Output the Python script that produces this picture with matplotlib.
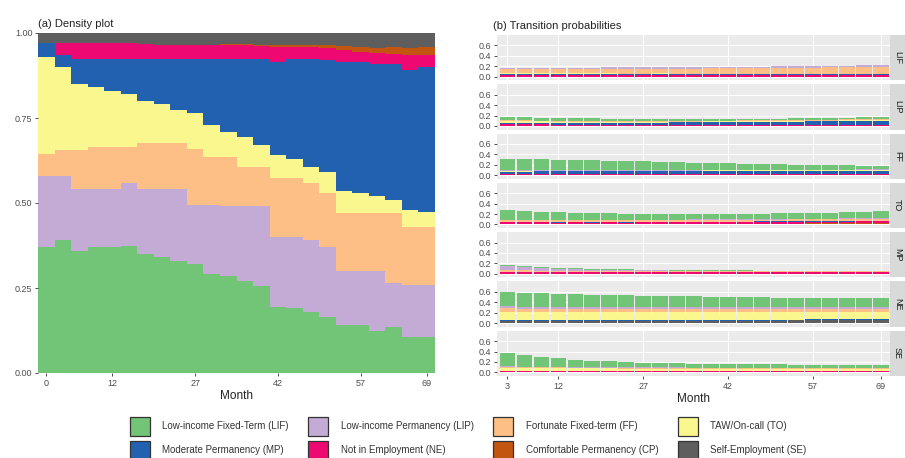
import matplotlib.pyplot as plt
from matplotlib.patches import Patch

plt.rcParams['font.family'] = ['Liberation Sans', 'DejaVu Sans']

# states, legend labels and colours (ColorBrewer "Accent"-like)
states = ['LIF', 'LIP', 'FF', 'TO', 'MP', 'NE', 'CP', 'SE']
state_names = ['Low-income Fixed-Term (LIF)', 'Low-income Permanency (LIP)',
               'Fortunate Fixed-term (FF)', 'TAW/On-call (TO)',
               'Moderate Permanency (MP)', 'Not in Employment (NE)',
               'Comfortable Permanency (CP)', 'Self-Employment (SE)']
colors = ['#72C476', '#C4ABD6', '#FDBF86', '#FAF78E',
          '#2260B0', '#EE0872', '#C25510', '#5E5E5E']

# (a) state distribution per month
months_a = [0, 3, 6, 9, 12, 15, 18, 21, 24, 27, 30, 33, 36, 39, 42, 45, 48, 51, 54, 57, 60, 63, 66, 69]
density_LIF = [0.37, 0.39, 0.36, 0.37, 0.37, 0.375, 0.35, 0.34, 0.33, 0.32, 0.29, 0.285,
               0.27, 0.255, 0.195, 0.19, 0.18, 0.165, 0.14, 0.14, 0.125, 0.135, 0.105, 0.105]
density_LIP = [0.21, 0.19, 0.18, 0.17, 0.17, 0.185, 0.19, 0.20, 0.21, 0.175, 0.205, 0.205,
               0.22, 0.235, 0.205, 0.21, 0.21, 0.205, 0.16, 0.16, 0.175, 0.13, 0.155, 0.155]
density_FF = [0.065, 0.075, 0.115, 0.125, 0.125, 0.105, 0.135, 0.135, 0.135, 0.165, 0.14, 0.145,
              0.115, 0.115, 0.175, 0.175, 0.17, 0.16, 0.17, 0.17, 0.17, 0.205, 0.17, 0.17]
density_TO = [0.285, 0.245, 0.195, 0.175, 0.165, 0.155, 0.125, 0.115, 0.10, 0.105, 0.095, 0.075,
              0.09, 0.065, 0.065, 0.055, 0.045, 0.06, 0.065, 0.06, 0.05, 0.04, 0.05, 0.045]
density_MP = [0.04, 0.035, 0.075, 0.085, 0.095, 0.105, 0.125, 0.135, 0.15, 0.16, 0.195, 0.215,
              0.23, 0.255, 0.275, 0.295, 0.32, 0.33, 0.38, 0.385, 0.39, 0.40, 0.41, 0.425]
density_NE = [0.0, 0.035, 0.045, 0.045, 0.045, 0.045, 0.043, 0.041, 0.04, 0.04, 0.04, 0.04,
              0.04, 0.037, 0.045, 0.035, 0.033, 0.035, 0.035, 0.03, 0.03, 0.028, 0.045, 0.035]
density_CP = [0, 0, 0, 0, 0, 0, 0, 0, 0, 0, 0, 0.002,
              0.003, 0.004, 0.005, 0.006, 0.008, 0.01, 0.012, 0.015, 0.017, 0.02, 0.022, 0.025]
density_SE = [0.03, 0.03, 0.03, 0.03, 0.03, 0.03, 0.032, 0.034, 0.035, 0.035, 0.035, 0.033,
              0.032, 0.034, 0.035, 0.034, 0.034, 0.035, 0.038, 0.04, 0.043, 0.042, 0.043, 0.04]
density = {'LIF': density_LIF, 'LIP': density_LIP, 'FF': density_FF, 'TO': density_TO,
           'MP': density_MP, 'NE': density_NE, 'CP': density_CP, 'SE': density_SE}

# (b) transition probabilities out of each state
months_b = [3, 6, 9, 12, 15, 18, 21, 24, 27, 30, 33, 36, 39, 42, 45, 48, 51, 54, 57, 60, 63, 66, 69]
facet_labels = ['LIF', 'LIP', 'FF', 'TO', 'MP', 'NE', 'SE']

from_LIF = {
    'NE': [0.035, 0.035, 0.034, 0.034, 0.033, 0.033, 0.033, 0.032, 0.032, 0.032, 0.031, 0.031, 0.031, 0.030, 0.030, 0.030, 0.030, 0.030, 0.029, 0.029, 0.029, 0.029, 0.028],
    'MP': [0.008, 0.008, 0.009, 0.009, 0.010, 0.010, 0.010, 0.011, 0.011, 0.012, 0.012, 0.012, 0.013, 0.013, 0.014, 0.014, 0.015, 0.015, 0.016, 0.016, 0.017, 0.017, 0.018],
    'TO': [0.020, 0.020, 0.019, 0.019, 0.018, 0.018, 0.018, 0.017, 0.017, 0.017, 0.016, 0.016, 0.016, 0.016, 0.015, 0.015, 0.015, 0.015, 0.015, 0.015, 0.014, 0.014, 0.014],
    'FF': [0.085, 0.086, 0.086, 0.087, 0.088, 0.089, 0.090, 0.092, 0.093, 0.094, 0.095, 0.097, 0.099, 0.101, 0.103, 0.106, 0.109, 0.112, 0.115, 0.118, 0.122, 0.126, 0.130],
    'LIP': [0.025, 0.025, 0.025, 0.025, 0.025, 0.025, 0.025, 0.026, 0.026, 0.026, 0.026, 0.026, 0.027, 0.027, 0.027, 0.028, 0.028, 0.028, 0.029, 0.029, 0.030, 0.030, 0.030],
}
from_LIP = {
    'NE': [0.030, 0.029, 0.028, 0.027, 0.027, 0.026, 0.026, 0.025, 0.025, 0.025, 0.025, 0.025, 0.025, 0.025, 0.025, 0.025, 0.025, 0.025, 0.025, 0.025, 0.025, 0.025, 0.025],
    'MP': [0.030, 0.031, 0.032, 0.033, 0.034, 0.035, 0.036, 0.037, 0.038, 0.040, 0.042, 0.044, 0.046, 0.048, 0.050, 0.052, 0.055, 0.058, 0.061, 0.064, 0.068, 0.072, 0.076],
    'TO': [0.030, 0.028, 0.026, 0.024, 0.022, 0.021, 0.020, 0.019, 0.018, 0.017, 0.016, 0.016, 0.015, 0.015, 0.015, 0.015, 0.015, 0.015, 0.015, 0.015, 0.015, 0.015, 0.015],
    'FF': [0.020, 0.019, 0.018, 0.017, 0.016, 0.016, 0.015, 0.015, 0.015, 0.015, 0.015, 0.015, 0.015, 0.015, 0.015, 0.015, 0.015, 0.016, 0.016, 0.017, 0.017, 0.018, 0.018],
    'LIF': [0.070, 0.062, 0.056, 0.052, 0.048, 0.045, 0.042, 0.040, 0.038, 0.036, 0.034, 0.033, 0.032, 0.031, 0.030, 0.030, 0.030, 0.030, 0.031, 0.032, 0.033, 0.034, 0.035],
}
from_FF = {
    'NE': [0.025, 0.025, 0.025, 0.024, 0.024, 0.024, 0.024, 0.024, 0.023, 0.023, 0.023, 0.023, 0.023, 0.023, 0.023, 0.023, 0.022, 0.022, 0.022, 0.022, 0.022, 0.022, 0.022],
    'MP': [0.045, 0.046, 0.047, 0.048, 0.049, 0.050, 0.051, 0.052, 0.053, 0.053, 0.054, 0.055, 0.056, 0.057, 0.058, 0.059, 0.060, 0.061, 0.062, 0.063, 0.064, 0.065, 0.066],
    'TO': [0.015, 0.015, 0.014, 0.014, 0.014, 0.013, 0.013, 0.013, 0.013, 0.012, 0.012, 0.012, 0.012, 0.012, 0.012, 0.012, 0.011, 0.011, 0.011, 0.011, 0.011, 0.011, 0.011],
    'LIP': [0.015, 0.015, 0.015, 0.014, 0.014, 0.014, 0.014, 0.014, 0.013, 0.013, 0.013, 0.013, 0.013, 0.013, 0.013, 0.013, 0.013, 0.012, 0.012, 0.012, 0.012, 0.012, 0.012],
    'LIF': [0.220, 0.214, 0.207, 0.200, 0.193, 0.185, 0.178, 0.170, 0.162, 0.155, 0.148, 0.140, 0.132, 0.125, 0.118, 0.110, 0.103, 0.097, 0.090, 0.084, 0.078, 0.072, 0.066],
}
from_TO = {
    'CP': [0.002, 0.002, 0.003, 0.003, 0.004, 0.004, 0.005, 0.005, 0.006, 0.007, 0.008, 0.009, 0.010, 0.011, 0.012, 0.014, 0.016, 0.018, 0.020, 0.022, 0.025, 0.028, 0.031],
    'NE': [0.038, 0.037, 0.036, 0.035, 0.035, 0.034, 0.034, 0.033, 0.033, 0.033, 0.032, 0.032, 0.032, 0.032, 0.032, 0.031, 0.031, 0.031, 0.031, 0.031, 0.031, 0.030, 0.030],
    'MP': [0.010, 0.010, 0.010, 0.011, 0.011, 0.011, 0.011, 0.012, 0.012, 0.012, 0.012, 0.013, 0.013, 0.013, 0.013, 0.014, 0.014, 0.014, 0.014, 0.015, 0.015, 0.015, 0.015],
    'FF': [0.030, 0.030, 0.030, 0.031, 0.031, 0.031, 0.032, 0.032, 0.032, 0.033, 0.033, 0.033, 0.034, 0.034, 0.034, 0.035, 0.035, 0.035, 0.036, 0.036, 0.036, 0.037, 0.037],
    'LIP': [0.012, 0.012, 0.012, 0.011, 0.011, 0.011, 0.011, 0.011, 0.010, 0.010, 0.010, 0.010, 0.010, 0.010, 0.010, 0.010, 0.010, 0.010, 0.010, 0.010, 0.010, 0.010, 0.010],
    'LIF': [0.180, 0.165, 0.152, 0.142, 0.134, 0.127, 0.121, 0.116, 0.112, 0.109, 0.107, 0.105, 0.104, 0.104, 0.104, 0.105, 0.107, 0.109, 0.112, 0.115, 0.119, 0.123, 0.127],
}
from_MP = {
    'NE': [0.030, 0.030, 0.031, 0.031, 0.031, 0.032, 0.032, 0.032, 0.032, 0.033, 0.033, 0.033, 0.033, 0.033, 0.034, 0.034, 0.034, 0.034, 0.034, 0.035, 0.035, 0.035, 0.035],
    'FF': [0.040, 0.034, 0.029, 0.025, 0.022, 0.020, 0.018, 0.017, 0.016, 0.015, 0.014, 0.013, 0.013, 0.012, 0.012, 0.011, 0.011, 0.011, 0.010, 0.010, 0.010, 0.010, 0.010],
    'LIP': [0.070, 0.058, 0.048, 0.040, 0.034, 0.029, 0.025, 0.022, 0.019, 0.017, 0.015, 0.014, 0.013, 0.012, 0.011, 0.010, 0.009, 0.009, 0.008, 0.008, 0.007, 0.007, 0.007],
    'LIF': [0.030, 0.026, 0.022, 0.019, 0.017, 0.015, 0.013, 0.012, 0.011, 0.010, 0.009, 0.009, 0.008, 0.008, 0.007, 0.007, 0.007, 0.006, 0.006, 0.006, 0.006, 0.006, 0.005],
}
from_NE = {
    'SE': [0.040, 0.041, 0.041, 0.042, 0.042, 0.043, 0.043, 0.044, 0.044, 0.045, 0.045, 0.046, 0.046, 0.047, 0.047, 0.048, 0.049, 0.050, 0.051, 0.052, 0.053, 0.054, 0.055],
    'MP': [0.010, 0.010, 0.011, 0.011, 0.012, 0.012, 0.013, 0.013, 0.014, 0.014, 0.015, 0.015, 0.016, 0.016, 0.017, 0.017, 0.017, 0.018, 0.018, 0.019, 0.019, 0.020, 0.020],
    'TO': [0.170, 0.167, 0.164, 0.162, 0.160, 0.158, 0.156, 0.154, 0.152, 0.150, 0.148, 0.146, 0.145, 0.143, 0.142, 0.140, 0.139, 0.137, 0.136, 0.134, 0.133, 0.131, 0.130],
    'FF': [0.060, 0.060, 0.061, 0.061, 0.062, 0.062, 0.063, 0.063, 0.064, 0.064, 0.065, 0.065, 0.066, 0.066, 0.066, 0.067, 0.067, 0.068, 0.068, 0.069, 0.069, 0.070, 0.070],
    'LIP': [0.040, 0.039, 0.038, 0.038, 0.037, 0.037, 0.036, 0.036, 0.035, 0.035, 0.034, 0.034, 0.033, 0.033, 0.033, 0.032, 0.032, 0.031, 0.031, 0.031, 0.030, 0.030, 0.030],
    'LIF': [0.270, 0.262, 0.255, 0.248, 0.242, 0.236, 0.230, 0.225, 0.220, 0.215, 0.210, 0.206, 0.202, 0.198, 0.194, 0.190, 0.187, 0.184, 0.181, 0.178, 0.175, 0.172, 0.170],
}
from_SE = {
    'NE': [0.022, 0.022, 0.021, 0.021, 0.021, 0.021, 0.020, 0.020, 0.020, 0.020, 0.020, 0.020, 0.020, 0.020, 0.020, 0.020, 0.020, 0.020, 0.020, 0.020, 0.020, 0.020, 0.020],
    'TO': [0.060, 0.059, 0.058, 0.057, 0.056, 0.055, 0.055, 0.054, 0.054, 0.053, 0.053, 0.052, 0.052, 0.052, 0.051, 0.051, 0.051, 0.050, 0.050, 0.050, 0.050, 0.050, 0.050],
    'FF': [0.020, 0.019, 0.018, 0.017, 0.016, 0.015, 0.014, 0.014, 0.013, 0.013, 0.012, 0.012, 0.012, 0.011, 0.011, 0.011, 0.011, 0.010, 0.010, 0.010, 0.010, 0.010, 0.010],
    'LIP': [0.012, 0.012, 0.011, 0.011, 0.011, 0.010, 0.010, 0.010, 0.010, 0.010, 0.009, 0.009, 0.009, 0.009, 0.009, 0.009, 0.008, 0.008, 0.008, 0.008, 0.008, 0.008, 0.008],
    'LIF': [0.250, 0.215, 0.186, 0.162, 0.142, 0.125, 0.111, 0.100, 0.091, 0.084, 0.078, 0.074, 0.070, 0.067, 0.065, 0.063, 0.062, 0.061, 0.060, 0.060, 0.060, 0.060, 0.060],
}
transitions = [from_LIF, from_LIP, from_FF, from_TO, from_MP, from_NE, from_SE]

W, H = 905, 458
fig = plt.figure(figsize=(W / 100, H / 100), dpi=100)
tick_col = '#4D4D4D'
panel_bg = '#EBEBEB'


def px_axes(x0, y0, x1, y1):
    return fig.add_axes([x0 / W, 1 - y1 / H, (x1 - x0) / W, (y1 - y0) / H])


def ggstyle(ax, fs=6.5):
    ax.set_facecolor(panel_bg)
    for s in ax.spines.values():
        s.set_visible(False)
    ax.tick_params(colors='#333333', labelcolor=tick_col, labelsize=fs, length=2.5, width=0.6, pad=1.5)


# ---- (a) density plot
ax = px_axes(38, 33, 435, 373)
ggstyle(ax, 6.5)
bottom = [0.0] * len(months_a)
for st, col in zip(states, colors):
    vals = density[st]
    ax.bar(months_a, vals, width=3.0, bottom=bottom, color=col, linewidth=0, antialiased=False)
    bottom = [b + v for b, v in zip(bottom, vals)]
ax.set_xlim(-1.5, 70.5)
ax.set_ylim(0, 1)
ax.set_xticks([0, 12, 27, 42, 57, 69])
ax.set_yticks([0, 0.25, 0.5, 0.75, 1.0])
ax.set_yticklabels(['0.00', '0.25', '0.50', '0.75', '1.00'])
ax.set_xlabel('Month', fontsize=8.5, labelpad=2, color='#222222')
ax.set_title('(a) Density plot', loc='left', fontsize=8, pad=4, color='#222222')

# ---- (b) transition probabilities
top0, bot_all, gap = 35, 376, 4
ph = (bot_all - top0 - gap * 6) / 7
for i, (lab, trans) in enumerate(zip(facet_labels, transitions)):
    y0 = top0 + i * (ph + gap)
    axf = px_axes(497, y0, 890, y0 + ph)
    ggstyle(axf, 6.5)
    axf.set_axisbelow(True)
    axf.grid(True, color='white', linewidth=0.7)
    bottom = [0.0] * len(months_b)
    for st, col in zip(states[::-1], colors[::-1]):
        if st not in trans:
            continue
        vals = trans[st]
        axf.bar(months_b, vals, width=2.7, bottom=bottom, color=col, linewidth=0)
        bottom = [b + v for b, v in zip(bottom, vals)]
    axf.set_xlim(1.2, 70.6)
    axf.set_ylim(-0.07, 0.8)
    axf.set_yticks([0.0, 0.2, 0.4, 0.6])
    axf.set_yticklabels(['0.0', '0.2', '0.4', '0.6'])
    axf.set_xticks([3, 12, 27, 42, 57, 69])
    if i < 6:
        axf.tick_params(axis='x', length=0, labelbottom=False)
    else:
        axf.set_xlabel('Month', fontsize=8.5, labelpad=2, color='#222222')
    if i == 0:
        axf.set_title('(b) Transition probabilities', loc='left', fontsize=8, pad=4, color='#222222',
                      x=-0.01)
    strip = px_axes(890, y0, 905, y0 + ph)
    strip.set_facecolor('#D9D9D9')
    strip.set_xticks([])
    strip.set_yticks([])
    for s in strip.spines.values():
        s.set_visible(False)
    strip.text(0.5, 0.5, lab, rotation=-90, ha='center', va='center', fontsize=6.5,
               color='#1A1A1A', transform=strip.transAxes)

# ---- legend (ggplot order: by row)
order = [0, 4, 1, 5, 2, 6, 3, 7]
handles = [Patch(facecolor=colors[k], edgecolor='#333333', linewidth=0.9, label=state_names[k]) for k in order]
fig.legend(handles=handles, ncol=4, loc='upper center', bbox_to_anchor=(468 / W, 1 - 412 / H),
           frameon=False, fontsize=7, handlelength=2.1, handleheight=2.6, labelspacing=0.5,
           columnspacing=2.0, handletextpad=1.25, borderpad=0, labelcolor='#333333')

fig.savefig('out.png', dpi=100)
